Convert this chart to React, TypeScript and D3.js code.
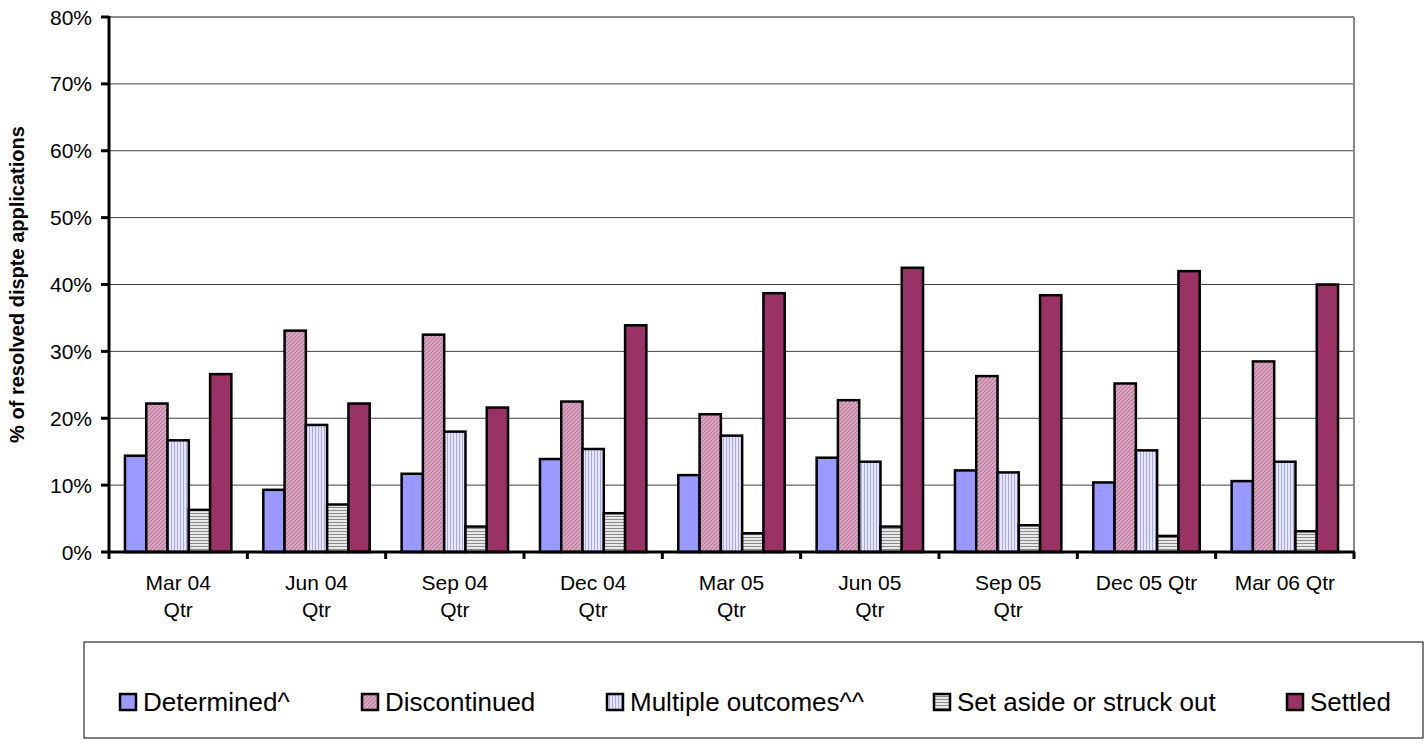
import React from "react";
import * as d3 from "d3";

const categories = ["Mar 04 Qtr", "Jun 04 Qtr", "Sep 04 Qtr", "Dec 04 Qtr", "Mar 05 Qtr", "Jun 05 Qtr", "Sep 05 Qtr", "Dec 05 Qtr", "Mar 06 Qtr"];
const categoryLines = [["Mar 04", "Qtr"], ["Jun 04", "Qtr"], ["Sep 04", "Qtr"], ["Dec 04", "Qtr"], ["Mar 05", "Qtr"], ["Jun 05", "Qtr"], ["Sep 05", "Qtr"], ["Dec 05 Qtr"], ["Mar 06 Qtr"]];
const seriesNames = ["Determined^", "Discontinued", "Multiple outcomes^^", "Set aside or struck out", "Settled"];
const determined = [14.4, 9.3, 11.7, 13.9, 11.5, 14.1, 12.2, 10.4, 10.6];
const discontinued = [22.2, 33.1, 32.5, 22.5, 20.6, 22.7, 26.3, 25.2, 28.5];
const multipleOutcomes = [16.7, 19.0, 18.0, 15.4, 17.4, 13.5, 11.9, 15.2, 13.5];
const setAside = [6.3, 7.1, 3.8, 5.8, 2.8, 3.8, 4.0, 2.4, 3.1];
const settled = [26.6, 22.2, 21.6, 33.9, 38.7, 42.5, 38.4, 42.0, 40.0];
const yTicks = [0, 10, 20, 30, 40, 50, 60, 70, 80];

const seriesValues = [determined, discontinued, multipleOutcomes, setAside, settled];
const fills = ["#9999FF", "url(#pDisc)", "url(#pMult)", "url(#pSet)", "#993366"];

const FONT = "Arial, 'Liberation Sans', sans-serif";

export default function App() {
  const left = 109, right = 1354, top = 17, bottom = 552;
  const x0 = d3.scaleBand<string>().domain(categories).range([left, right]).paddingInner(0).paddingOuter(0);
  const x1 = d3.scaleBand<string>().domain(seriesNames).range([0, x0.bandwidth()]).paddingInner(0).paddingOuter(0.75);
  const y = d3.scaleLinear().domain([0, 80]).range([bottom, top]);

  const legendX = [119, 361, 606, 933, 1286];

  return (
    <svg width={1426} height={755} style={{ position: "absolute", left: 0, top: 0, background: "#fff" }}>
      <defs>
        <pattern id="pDisc" width="4" height="4" patternUnits="userSpaceOnUse">
          <rect width="4" height="4" fill="#DDAAC4" />
          <path d="M0,4 L4,0 M-1,1 L1,-1 M3,5 L5,3" stroke="#B87A9C" strokeWidth="1.1" />
        </pattern>
        <pattern id="pMult" width="3" height="3" patternUnits="userSpaceOnUse">
          <rect width="3" height="3" fill="#E6E6FF" />
          <rect x="0" width="1" height="3" fill="#A8A8F0" />
        </pattern>
        <pattern id="pSet" width="3" height="3" patternUnits="userSpaceOnUse">
          <rect width="3" height="3" fill="#E8E8E8" />
          <rect y="0" width="3" height="1" fill="#8A8A8A" />
        </pattern>
      </defs>

      {/* gridlines */}
      {yTicks.filter((t) => t > 0 && t < 80).map((t) => (
        <line key={t} x1={left} x2={right} y1={y(t)} y2={y(t)} stroke="#404040" strokeWidth={1} />
      ))}
      {/* plot border top and right */}
      <line x1={left} x2={right} y1={y(80)} y2={y(80)} stroke="#888" strokeWidth={2} />
      <line x1={right} x2={right} y1={y(80)} y2={bottom} stroke="#888" strokeWidth={2} />

      {/* bars */}
      {categories.map((c, ci) => (
        <g key={c}>
          {seriesNames.map((s, si) => {
            const v = seriesValues[si][ci];
            const bx = (x0(c) as number) + (x1(s) as number);
            return (
              <rect key={s} x={bx} y={y(v)} width={x1.bandwidth()} height={bottom - y(v)}
                fill={fills[si]} stroke="#000" strokeWidth={2.5} />
            );
          })}
        </g>
      ))}

      {/* y axis */}
      <line x1={left} x2={left} y1={top - 1} y2={bottom + 1} stroke="#000" strokeWidth={3} />
      {yTicks.map((t) => (
        <g key={t}>
          <line x1={left - 8} x2={left} y1={y(t)} y2={y(t)} stroke="#000" strokeWidth={3} />
          <text x={92} y={y(t)} dy="0.36em" textAnchor="end" fontFamily={FONT} fontSize={21} fill="#000">{t}%</text>
        </g>
      ))}
      {/* x axis */}
      <line x1={left - 1} x2={right + 1} y1={bottom} y2={bottom} stroke="#000" strokeWidth={3} />
      {categories.map((c) => (
        <line key={c} x1={x0(c) as number} x2={x0(c) as number} y1={bottom} y2={bottom + 7} stroke="#000" strokeWidth={3} />
      ))}
      <line x1={right} x2={right} y1={bottom} y2={bottom + 7} stroke="#000" strokeWidth={3} />
      {categories.map((c, ci) => (
        <text key={c} x={(x0(c) as number) + x0.bandwidth() / 2} y={590} textAnchor="middle" fontFamily={FONT} fontSize={21} fill="#000">
          {categoryLines[ci].map((ln, li) => (
            <tspan key={li} x={(x0(c) as number) + x0.bandwidth() / 2} dy={li === 0 ? 0 : 27}>{ln}</tspan>
          ))}
        </text>
      ))}

      {/* y axis title */}
      <text transform={`translate(24,${(top + bottom) / 2}) rotate(-90)`} textAnchor="middle" fontFamily={FONT} fontSize={20} fontWeight="bold" fill="#000">
        % of resolved dispte applications
      </text>

      {/* legend */}
      <rect x={84} y={642} width={1339} height={96} fill="#fff" stroke="#000" strokeWidth={1} />
      {seriesNames.map((s, si) => (
        <g key={s}>
          <rect x={legendX[si] + 1} y={694} width={16} height={16} fill={fills[si]} stroke="#000" strokeWidth={2.5} />
          <text x={legendX[si] + 24} y={702} dy="0.36em" fontFamily={FONT} fontSize={26} fill="#000">{s}</text>
        </g>
      ))}
    </svg>
  );
}
